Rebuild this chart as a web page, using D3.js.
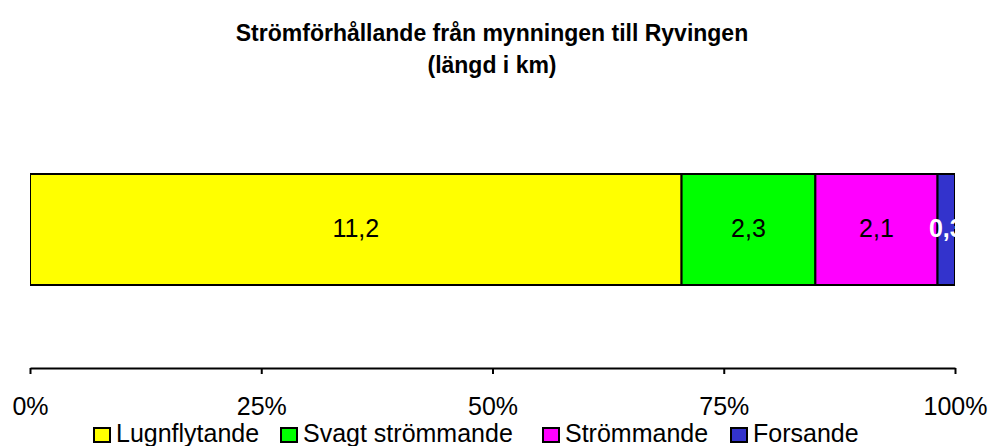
<!DOCTYPE html>
<html>
<head>
<meta charset="utf-8">
<script src="https://cdn.jsdelivr.net/npm/d3@7"></script>
<style>
body{margin:0;background:#fff;}
text{font-family:Arial,"Liberation Sans",sans-serif;}
</style>
</head>
<body>
<script>
var width=991;
var height=446;
var categories=["Lugnflytande","Svagt strömmande","Strömmande","Forsande"];
var values=[11.2,2.3,2.1,0.3];
var labels=["11,2","2,3","2,1","0,3"];
var colors=["#FFFF00","#00FF00","#FF00FF","#3333CC"];
var labelColors=["#000","#000","#000","#fff"];
var ticks=[0,0.25,0.5,0.75,1];
var tickLabels=["0%","25%","50%","75%","100%"];

var total=d3.sum(values);
var cum=0;
var segs=values.map(function(v,i){
    var s={i:i,v:v,x0:cum/total,x1:(cum+v)/total};
    cum+=v;
    return s;
});

var svg=d3.select("body").append("svg").attr("width",width).attr("height",height);

svg.append("text").attr("x",492).attr("y",41).attr("text-anchor","middle")
    .attr("font-size","23px").attr("font-weight","bold")
    .text("Strömförhållande från mynningen till Ryvingen");
svg.append("text").attr("x",492).attr("y",73).attr("text-anchor","middle")
    .attr("font-size","23px").attr("font-weight","bold")
    .text("(längd i km)");

var x=d3.scaleLinear().domain([0,1]).range([30,955]);
var barTop=174,barH=111;

svg.append("clipPath").attr("id","plotclip").append("rect")
    .attr("x",30).attr("y",100).attr("width",925).attr("height",250);

var g=svg.append("g").attr("clip-path","url(#plotclip)");

g.selectAll(".seg").data(segs).enter().append("rect")
    .attr("class","seg")
    .attr("x",function(d){return x(d.x0);})
    .attr("y",barTop)
    .attr("width",function(d){return x(d.x1)-x(d.x0);})
    .attr("height",barH)
    .attr("fill",function(d){return colors[d.i];})
    .attr("stroke","#000").attr("stroke-width",2);

g.selectAll(".lbl").data(segs).enter().append("text")
    .attr("class","lbl")
    .attr("x",function(d){return (x(d.x0)+x(d.x1))/2;})
    .attr("y",237)
    .attr("text-anchor","middle")
    .attr("font-size","25px")
    .attr("font-weight",function(d){return d.i==3?"bold":"normal";})
    .attr("fill",function(d){return labelColors[d.i];})
    .text(function(d){return labels[d.i];});

var axis=d3.axisBottom(x).tickValues(ticks)
    .tickFormat(function(d,i){return tickLabels[i];})
    .tickSize(6).tickSizeOuter(0);
var ax=svg.append("g").attr("transform","translate(0,368)").call(axis);
ax.select(".domain").attr("stroke","#000").attr("stroke-width",2);
ax.selectAll(".tick line").attr("stroke","#000").attr("stroke-width",2);
ax.selectAll(".tick text").attr("font-size","25px").attr("fill","#000")
    .attr("y",47).attr("dy",0)
    .attr("font-family","Arial,'Liberation Sans',sans-serif");

var legendX=[93,280,542,730];
var lg=svg.selectAll(".leg").data(categories).enter().append("g")
    .attr("class","leg")
    .attr("transform",function(d,i){return "translate("+legendX[i]+",427)";});
lg.append("rect").attr("x",1).attr("y",1).attr("width",16).attr("height",14)
    .attr("fill",function(d,i){return colors[i];})
    .attr("stroke","#000").attr("stroke-width",2);
lg.append("text").attr("x",23).attr("y",15).attr("font-size","25px")
    .text(function(d){return d;});
</script>
</body>
</html>
